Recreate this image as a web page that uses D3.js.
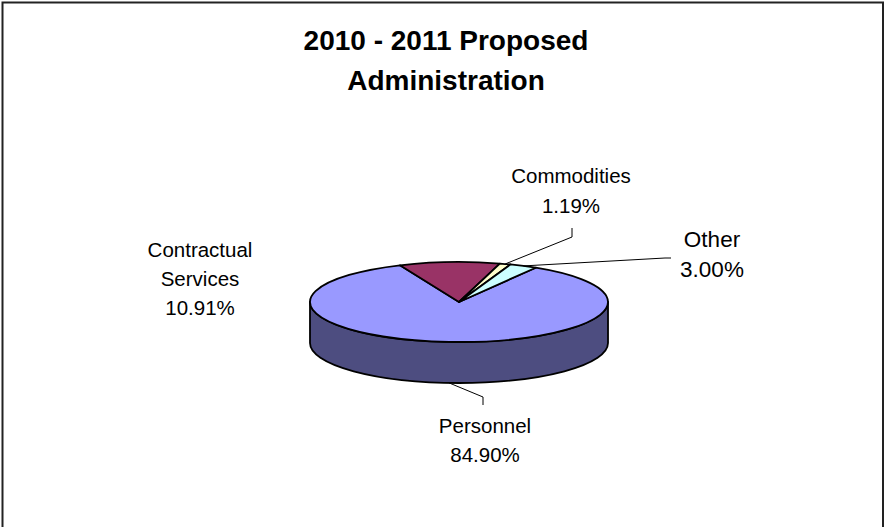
<!DOCTYPE html>
<html>
<head>
<meta charset="utf-8">
<script src="https://cdn.jsdelivr.net/npm/d3@7"></script>
<style>
  html, body { margin: 0; padding: 0; background: #fff; }
  svg { display: block; }
  text { font-family: "Liberation Sans", Arial, sans-serif; fill: #000; }
</style>
</head>
<body>
<svg id="chart" width="886" height="527"></svg>
<script>
// ---- data ----
const categories = ["Personnel", "Contractual Services", "Commodities", "Other"];
const nameLines = [["Personnel"], ["Contractual", "Services"], ["Commodities"], ["Other"]];
const shares = [84.90, 10.91, 1.19, 3.00];
const percentLabels = ["84.90%", "10.91%", "1.19%", "3.00%"];
const titleLines = ["2010 - 2011 Proposed", "Administration"];

// ---- styling / layout ----
const topColors = ["#9999ff", "#993366", "#ffffcc", "#ccffff"];
const sideColors = ["#4d4d80", "#4d1a33", "#808066", "#668080"];
const W = 886, H = 527;
const cx = 459, cy = 302, rx = 149, ry = 40, depth = 41;
const firstSliceAngle = 31 * Math.PI / 180;

// label anchor (centre x, first baseline, line gap, font size) and leader line bends
const labelLayout = [
  { x: 485, y: 433, gap: 29, size: 20.5, leader: { from: "side", bend: [483, 397], end: [483, 405] } },
  { x: 200, y: 257, gap: 29, size: 20.5, leader: null },
  { x: 571, y: 183, gap: 30, size: 20.5, leader: { from: "top", bend: [572, 237], end: [572, 228] } },
  { x: 712, y: 247, gap: 30, size: 22.5, leader: { from: "top", bend: [665, 258], end: [671, 258] } }
];

const svg = d3.select("#chart");
svg.append("rect").attr("width", W).attr("height", H).attr("fill", "#fff");

// chart area border
svg.append("rect")
  .attr("x", 2.5).attr("y", 2.5)
  .attr("width", 880.5).attr("height", H + 10)
  .attr("fill", "none").attr("stroke", "#222").attr("stroke-width", 2);

// title
svg.append("text")
  .attr("x", 446).attr("y", 50)
  .attr("text-anchor", "middle")
  .style("font-size", "28px").style("font-weight", "bold")
  .selectAll("tspan").data(titleLines).join("tspan")
  .attr("x", 446).attr("dy", (d, i) => i === 0 ? 0 : 40)
  .text(d => d);

// ---- 3D pie ----
const pie = d3.pie().sort(null).value(d => d)
  .startAngle(firstSliceAngle).endAngle(firstSliceAngle + 2 * Math.PI);
const arcs = pie(shares);

// point on the tilted disc for an angle measured clockwise from 12 o'clock
const pt = (a, dy = 0) => [cx + rx * Math.sin(a), cy - ry * Math.cos(a) + dy];

function topPath(d) {
  const p = d3.path();
  const [x0, y0] = pt(d.startAngle);
  const [x1, y1] = pt(d.endAngle);
  const large = (d.endAngle - d.startAngle) > Math.PI ? 1 : 0;
  return `M${cx},${cy}L${x0},${y0}A${rx},${ry} 0 ${large} 1 ${x1},${y1}Z`;
}

// front-facing wall segments of a slice (angles between 90° and 270°, mod 360°)
function sidePaths(d) {
  const out = [];
  for (const k of [0, 1]) {
    const lo = Math.PI / 2 + k * 2 * Math.PI, hi = 3 * Math.PI / 2 + k * 2 * Math.PI;
    const s = Math.max(d.startAngle, lo), e = Math.min(d.endAngle, hi);
    if (e > s) {
      const [x0, y0] = pt(s), [x1, y1] = pt(e);
      const [x2, y2] = pt(e, depth), [x3, y3] = pt(s, depth);
      out.push(`M${x0},${y0}A${rx},${ry} 0 0 1 ${x1},${y1}L${x2},${y2}A${rx},${ry} 0 0 0 ${x3},${y3}Z`);
    }
  }
  return out;
}

const pieG = svg.append("g");
arcs.forEach((d, i) => {
  sidePaths(d).forEach(p => {
    pieG.append("path").attr("d", p)
      .attr("fill", sideColors[i]).attr("stroke", "#000")
      .attr("stroke-width", 1.8).attr("stroke-linejoin", "round");
  });
});
pieG.selectAll("path.top").data(arcs).join("path")
  .attr("class", "top")
  .attr("d", topPath)
  .attr("fill", (d, i) => topColors[i])
  .attr("stroke", "#000").attr("stroke-width", 1.8).attr("stroke-linejoin", "round");

// ---- labels & leader lines ----
arcs.forEach((d, i) => {
  const L = labelLayout[i];
  if (L.leader) {
    const mid = (d.startAngle + d.endAngle) / 2;
    const start = L.leader.from === "side" ? pt(mid, depth) : pt(mid);
    svg.append("path")
      .attr("d", d3.line()([start, L.leader.bend, L.leader.end]))
      .attr("fill", "none").attr("stroke", "#000").attr("stroke-width", 1);
  }
  const lines = nameLines[i].concat([percentLabels[i]]);
  svg.append("text")
    .attr("text-anchor", "middle")
    .style("font-size", L.size + "px")
    .selectAll("tspan").data(lines).join("tspan")
    .attr("x", L.x).attr("y", (t, j) => L.y + j * L.gap)
    .text(t => t);
});
</script>
</body>
</html>
